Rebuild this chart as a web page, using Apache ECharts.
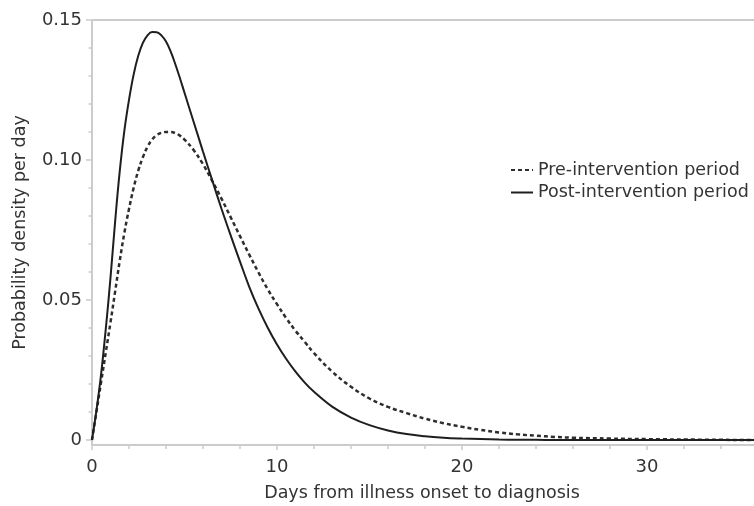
<!DOCTYPE html>
<html>
<head>
<meta charset="utf-8">
<script src="https://cdn.jsdelivr.net/npm/echarts@6/dist/echarts.min.js"></script>
<style>
  html, body { margin: 0; padding: 0; background: #fff; }
  #chart { width: 754px; height: 506px; }
</style>
</head>
<body>
<div id="chart"></div>
<script>
// days since illness onset (x) and density
var days = [0, 0.25, 0.5, 0.75, 1, 1.25, 1.5, 1.75, 2, 2.25, 2.5, 2.75, 3, 3.25, 3.5,
  3.75, 4, 4.25, 4.5, 4.75, 5, 5.5, 6, 6.5, 7, 7.5, 8, 8.5, 9, 9.5, 10, 10.5, 11,
  11.5, 12, 13, 14, 15, 16, 17, 18, 19, 20, 21, 22, 23, 24, 25, 26, 28, 30, 33, 36, 40];
var preDensity = [0, 0.0105, 0.021, 0.0315, 0.042, 0.053, 0.064, 0.074, 0.0825, 0.090,
  0.0962, 0.101, 0.1047, 0.1073, 0.1089, 0.1097, 0.110, 0.110, 0.1096, 0.1087, 0.1073,
  0.1035, 0.0985, 0.0925, 0.0862, 0.0795, 0.0728, 0.0662, 0.0598, 0.0538, 0.0485,
  0.0435, 0.039, 0.035, 0.031, 0.0243, 0.019, 0.0148, 0.0118, 0.0096, 0.0076, 0.006,
  0.0047, 0.0036, 0.0027, 0.002, 0.0015, 0.0011, 0.0008, 0.0005, 0.0003, 0.0001, 0, 0];
var postDensity = [0, 0.011, 0.024, 0.040, 0.058, 0.078, 0.096, 0.1105, 0.1215, 0.1305,
  0.1372, 0.1418, 0.1445, 0.1457, 0.1456, 0.1445, 0.1423, 0.1388, 0.1343, 0.1293,
  0.124, 0.1135, 0.103, 0.0927, 0.0826, 0.073, 0.0637, 0.0547, 0.0469, 0.0401, 0.0341,
  0.0289, 0.0244, 0.0205, 0.0172, 0.0118, 0.008, 0.0053, 0.0034, 0.0021, 0.0013,
  0.0008, 0.0005, 0.0003, 0.00015, 0.0001, 0.00005, 0, 0, 0, 0, 0, 0, 0];
var seriesNames = ['Pre-intervention period', 'Post-intervention period'];
var yLabels = [0, 0.05, 0.10, 0.15];
var yMinorTicks = [0, 0.01, 0.02, 0.03, 0.04, 0.05, 0.06, 0.07, 0.08, 0.09, 0.10,
  0.11, 0.12, 0.13, 0.14, 0.15];

function pairs(xs, ys) {
  return xs.map(function(x, i) { return [x, ys[i]]; });
}

var axisGrey = '#cccccc';
var textColor = '#333333';
var font = 'DejaVu Sans';

var chart = echarts.init(document.getElementById('chart'), null, {renderer: 'canvas'});
chart.setOption({
  animation: false,
  backgroundColor: '#ffffff',
  textStyle: {fontFamily: font, color: textColor},
  grid: {
    // axis runs on past the right edge, as in the cropped original
    left: 92, top: 20, right: -78, bottom: 61,
    outerBoundsMode: 'none',
    containLabel: false,
    show: true, borderColor: axisGrey, borderWidth: 2, backgroundColor: 'transparent'
  },
  legend: {
    orient: 'vertical',
    left: 510, top: 161,
    padding: 0,
    itemWidth: 22, itemHeight: 14, itemGap: 4.5,
    itemStyle: {opacity: 0},
    textStyle: {fontFamily: font, fontSize: 17.5, color: textColor},
    data: seriesNames
  },
  xAxis: {
    type: 'value',
    min: 0, max: 40, interval: 10,
    name: 'Days from illness onset to diagnosis',
    nameLocation: 'middle',
    nameGap: 39,
    nameTextStyle: {fontFamily: font, fontSize: 17.5, color: textColor, padding: [0, 80, 0, 0]},
    axisLine: {onZero: false, lineStyle: {color: axisGrey, width: 2}},
    axisTick: {length: 5, lineStyle: {color: axisGrey, width: 1.5}},
    minorTick: {show: true, splitNumber: 5, length: 4, lineStyle: {color: axisGrey, width: 1.5}},
    axisLabel: {margin: 13, fontSize: 18, color: textColor, fontFamily: font},
    splitLine: {show: false}
  },
  yAxis: [{
    type: 'value',
    min: -0.0018, max: 0.15,
    name: 'Probability density per day',
    nameLocation: 'middle',
    nameGap: 63,
    nameTextStyle: {fontFamily: font, fontSize: 17.5, color: textColor},
    axisLine: {show: true, lineStyle: {color: axisGrey, width: 2}},
    axisTick: {show: true, length: 6, customValues: yLabels, lineStyle: {color: axisGrey, width: 1.5}},
    axisLabel: {
      margin: 10, fontSize: 18, color: textColor, fontFamily: font,
      customValues: yLabels,
      formatter: function(v) { return v === 0 ? '0' : v.toFixed(2); }
    },
    splitLine: {show: false}
  }, {
    // overlay axis carrying only the 0.01 minor ticks
    type: 'value',
    position: 'left',
    min: -0.0018, max: 0.15,
    axisLine: {show: false},
    axisTick: {show: true, length: 3.5, customValues: yMinorTicks, lineStyle: {color: axisGrey, width: 1.5}},
    axisLabel: {show: false},
    splitLine: {show: false}
  }],
  series: [{
    name: seriesNames[0],
    type: 'line',
    symbol: 'none',
    smooth: 0.4,
    data: pairs(days, preDensity),
    lineStyle: {color: '#2e2e2e', width: 2.5, type: [4, 3]},
    itemStyle: {color: '#2e2e2e'}
  }, {
    name: seriesNames[1],
    type: 'line',
    symbol: 'none',
    smooth: 0.4,
    data: pairs(days, postDensity),
    lineStyle: {color: '#1e1e1e', width: 2},
    itemStyle: {color: '#1e1e1e'}
  }]
});
</script>
</body>
</html>
